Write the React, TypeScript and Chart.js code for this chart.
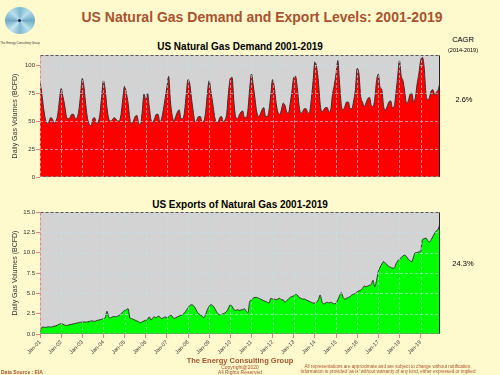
import React, { useEffect, useRef } from "react";
import { Chart, registerables } from "chart.js";
Chart.register(...registerables);

const yearLabels = [
  "Jan-01", "Jan-02", "Jan-03", "Jan-04", "Jan-05", "Jan-06", "Jan-07", "Jan-08", "Jan-09", "Jan-10",
  "Jan-11", "Jan-12", "Jan-13", "Jan-14", "Jan-15", "Jan-16", "Jan-17", "Jan-18", "Jan-19",
];

// Monthly US natural gas demand (BCFD), Jan-2001 .. Dec-2019
const demand = [
  85, 75, 62, 52, 48, 49, 53, 52, 48, 50, 55, 68,
  79, 72, 64, 54, 52, 53, 56, 56, 52, 53, 59, 73,
  88, 80, 64, 52, 47, 46, 52, 53, 48, 49, 56, 72,
  86, 78, 62, 52, 50, 51, 53, 52, 50, 50, 56, 70,
  81, 75, 66, 52, 48, 50, 54, 55, 48, 47, 58, 74,
  69, 75, 63, 51, 49, 52, 56, 56, 49, 52, 60, 70,
  80, 90, 68, 55, 50, 54, 58, 60, 52, 52, 58, 74,
  87, 83, 70, 58, 49, 51, 54, 54, 49, 50, 58, 75,
  86, 76, 66, 55, 49, 49, 53, 54, 49, 51, 57, 76,
  88, 89, 68, 54, 52, 55, 58, 59, 53, 53, 60, 79,
  92, 82, 70, 58, 54, 56, 60, 62, 54, 54, 60, 74,
  87, 80, 66, 58, 56, 60, 66, 64, 58, 57, 66, 77,
  89, 90, 80, 64, 57, 58, 61, 61, 57, 58, 70, 86,
  103, 98, 85, 65, 58, 60, 62, 62, 58, 60, 74, 82,
  92, 104, 84, 64, 60, 63, 67, 67, 61, 61, 68, 78,
  97, 92, 72, 67, 63, 66, 70, 71, 64, 63, 70, 86,
  92, 80, 78, 63, 60, 63, 67, 68, 62, 63, 75, 90,
  104, 90, 86, 76, 66, 68, 74, 75, 67, 71, 83, 92,
  104, 107, 98, 75, 69, 71, 77, 78, 73, 76, 78, 85,
];

// Monthly US natural gas exports (BCFD), Jan-2001 .. Dec-2019
const exportsData = [
  0.3, 0.8, 0.85, 0.8, 0.85, 0.9, 0.85, 0.9, 0.95, 1.0, 1.1, 1.2,
  1.3, 1.2, 1.1, 1.05, 1.1, 1.15, 1.2, 1.25, 1.3, 1.35, 1.4, 1.45,
  1.45, 1.5, 1.45, 1.5, 1.55, 1.6, 1.6, 1.55, 1.65, 1.7, 1.75, 1.8,
  1.9, 2.0, 2.8, 2.1, 2.0, 2.1, 2.15, 2.1, 2.2, 2.3, 2.5, 2.7,
  2.9, 3.0, 3.1, 2.0, 1.9, 1.8, 1.7, 1.6, 1.5, 1.4, 1.5, 1.6,
  1.7, 1.8, 2.1, 1.7, 2.0, 2.1, 2.0, 2.2, 2.1, 1.9, 2.0, 2.1,
  2.0, 2.1, 2.3, 2.2, 1.9, 2.0, 2.1, 2.2, 2.3, 2.4, 2.6, 2.9,
  3.2, 3.5, 3.6, 3.5, 3.2, 2.8, 2.5, 2.35, 2.2, 2.0, 2.4, 3.0,
  3.4, 3.6, 3.5, 3.2, 2.8, 2.5, 2.35, 2.4, 2.5, 2.6, 2.8, 3.2,
  3.6, 3.4, 3.0, 2.9, 3.0, 2.9, 2.95, 3.0, 3.1, 2.8, 2.6, 4.0,
  4.2, 4.4, 4.5, 4.5, 4.4, 4.3, 4.2, 4.1, 4.0, 3.9, 3.8, 4.4,
  4.3, 4.3, 4.2, 4.3, 4.4, 4.2, 4.2, 3.9, 4.1, 4.3, 4.5, 4.6,
  4.7, 4.9, 4.8, 4.5, 4.4, 4.3, 4.3, 4.2, 4.1, 4.0, 3.9, 3.8,
  3.8, 3.9, 4.2, 4.8, 4.0, 3.7, 3.8, 3.9, 3.8, 3.9, 3.8, 3.7,
  3.8, 4.2, 4.7, 5.1, 4.5, 4.3, 4.4, 4.5, 4.6, 4.8, 4.9, 5.0,
  5.2, 5.3, 5.4, 5.6, 5.9, 5.8, 5.9, 6.0, 6.1, 6.6, 5.8, 6.6,
  7.7, 8.2, 8.6, 8.9, 8.7, 8.5, 8.3, 8.2, 8.1, 8.1, 8.6, 9.0,
  9.2, 9.4, 9.6, 9.7, 9.5, 9.2, 9.0, 8.9, 9.5, 10.0, 10.0, 10.1,
  10.1, 11.6, 11.7, 11.8, 11.5, 11.3, 11.6, 12.0, 12.4, 12.7, 12.9, 13.6,
];

const demandTickStep = 25;
const demandMax = 109;
const exportTickStep = 2.5;
const exportMax = 15;
const cagrDemand = "2.6%";
const cagrExports = "24.3%";

const BG = "#FFFACD";
const BROWN = "#A9522F";
const FONT = "'Liberation Sans', Arial, Helvetica, sans-serif";

const framePlugin = {
  id: "frameGrid",
  beforeDraw(chart: any) {
    const { ctx, chartArea: a } = chart;
    ctx.save();
    ctx.fillStyle = "#D3D3D3";
    ctx.fillRect(a.left, a.top, a.right - a.left, a.bottom - a.top);
    ctx.restore();
  },
  afterDatasetsDraw(chart: any) {
    const { ctx, chartArea: a, scales } = chart;
    const xs = scales.x;
    const ys = scales.y;
    ctx.save();
    ctx.lineWidth = 1;
    ctx.setLineDash([3, 2]);
    ctx.strokeStyle = "rgba(190,225,240,0.6)";
    xs.ticks.forEach((t: any) => {
      const px = Math.round(xs.getPixelForValue(t.value)) + 0.5;
      if (px > a.left + 2 && px < a.right - 2) {
        ctx.beginPath();
        ctx.moveTo(px, a.top);
        ctx.lineTo(px, a.bottom);
        ctx.stroke();
      }
    });
    ys.ticks.forEach((t: any) => {
      const py = Math.round(ys.getPixelForValue(t.value)) + 0.5;
      if (py > a.top + 2 && py < a.bottom - 2) {
        ctx.beginPath();
        ctx.moveTo(a.left, py);
        ctx.lineTo(a.right, py);
        ctx.stroke();
      }
    });
    const L = Math.round(a.left) + 0.5;
    const R = Math.round(a.right) - 0.5;
    const T = Math.round(a.top) + 0.5;
    const B = Math.round(a.bottom) - 0.5;
    ctx.strokeStyle = "#555";
    ctx.beginPath(); ctx.moveTo(L, T); ctx.lineTo(R, T); ctx.stroke();
    ctx.strokeStyle = "#888";
    ctx.beginPath(); ctx.moveTo(L, B); ctx.lineTo(R, B); ctx.stroke();
    ctx.strokeStyle = "#F08080";
    ctx.beginPath(); ctx.moveTo(L, T); ctx.lineTo(L, B); ctx.stroke();
    ctx.setLineDash([]);
    ctx.strokeStyle = "#222";
    ctx.beginPath(); ctx.moveTo(R, T); ctx.lineTo(R, B); ctx.stroke();
    ctx.restore();
  },
};

function makeConfig(values: number[], fillColor: string, yMax: number, step: number, showX: boolean, xHeight: number, decimals: number) {
  const pts = values.map((v, i) => ({ x: i / 12, y: v }));
  return {
    type: "line",
    data: {
      datasets: [
        {
          data: pts,
          borderColor: "#333333",
          borderWidth: 1,
          backgroundColor: fillColor,
          fill: "origin",
          pointRadius: 0,
          cubicInterpolationMode: "monotone",
        },
      ],
    },
    options: {
      animation: false,
      responsive: false,
      maintainAspectRatio: false,
      events: [],
      layout: { padding: { top: 5, right: 60, left: 0, bottom: 0 } },
      plugins: { legend: { display: false }, tooltip: { enabled: false }, title: { display: false } },
      scales: {
        x: {
          type: "linear",
          min: 0,
          max: (values.length - 1) / 12,
          afterBuildTicks: (s: any) => {
            s.ticks = s.ticks.filter((t: any) => Number.isInteger(t.value));
          },
          afterFit: (s: any) => {
            s.height = xHeight;
          },
          ticks: {
            stepSize: 1,
            autoSkip: false,
            display: showX,
            minRotation: 45,
            maxRotation: 45,
            padding: 1,
            color: "#333",
            font: { size: 5.5, family: FONT },
            callback: (v: number) => yearLabels[v] ?? "",
          },
          grid: {
            display: showX,
            drawOnChartArea: false,
            drawTicks: true,
            tickLength: 4,
            tickColor: "#F08080",
          },
          border: { display: false },
        },
        y: {
          min: 0,
          max: yMax,
          afterBuildTicks: (s: any) => {
            s.ticks = s.ticks.filter((t: any) => Math.abs(t.value / step - Math.round(t.value / step)) < 1e-6);
          },
          afterFit: (s: any) => {
            s.width = 40;
          },
          ticks: {
            stepSize: step,
            padding: 1,
            color: "#333",
            font: { size: 6, family: FONT },
            callback: (v: number) => v.toFixed(decimals),
          },
          grid: {
            drawOnChartArea: false,
            drawTicks: true,
            tickLength: 4,
            tickColor: "#F08080",
          },
          border: { display: false },
          title: {
            display: true,
            text: "Daily Gas Volumes (BCFD)",
            color: "#333",
            font: { size: 7, family: FONT },
            padding: { top: 11, bottom: 0 },
          },
        },
      },
    },
    plugins: [framePlugin],
  } as any;
}

function ChartCanvas(props: { config: any; top: number; height: number }) {
  const ref = useRef<HTMLCanvasElement | null>(null);
  useEffect(() => {
    if (!ref.current) return;
    const c = new Chart(ref.current, props.config);
    return () => c.destroy();
  }, []);
  return (
    <canvas
      ref={ref}
      width={500}
      height={props.height}
      style={{ position: "absolute", left: 0, top: props.top, width: 500, height: props.height }}
    />
  );
}

function T(props: { x: number; y: number; size: number; bold?: boolean; color?: string; align?: "center" | "left" | "right"; children: any }) {
  const align = props.align || "center";
  const tx = align === "center" ? "-50%" : align === "right" ? "-100%" : "0";
  return (
    <div
      style={{
        position: "absolute",
        left: props.x,
        top: props.y,
        transform: `translate(${tx}, -50%)`,
        fontSize: props.size,
        lineHeight: 1,
        fontWeight: props.bold ? "bold" : "normal",
        color: props.color || "#000",
        fontFamily: FONT,
        whiteSpace: "nowrap",
      }}
    >
      {props.children}
    </div>
  );
}

export default function App() {
  const topCfg = makeConfig(demand, "#FF0000", demandMax, demandTickStep, false, 5, 0);
  const botCfg = makeConfig(exportsData, "#00FF00", exportMax, exportTickStep, true, 28, 1);
  return (
    <div style={{ position: "fixed", left: 0, top: 0, width: 500, height: 375, background: BG, overflow: "hidden" }}>
      <div
        style={{
          position: "absolute",
          left: 5,
          top: 7,
          width: 30,
          height: 27,
          borderRadius: "50%",
          background:
            "conic-gradient(from 0deg, #7fb8d0, #b9e0ee, #6fa9c4, #b9e0ee, #7fb8d0, #c4e6f2, #6fa9c4, #b9e0ee, #7fb8d0)",
        }}
      >
        <div style={{ position: "absolute", left: 13, top: 12, width: 3, height: 3, borderRadius: "50%", background: "#223" }} />
      </div>
      <T x={20} y={43} size={3} color="#333">The Energy Consulting Group</T>

      <T x={262} y={17} size={14} bold color={BROWN}>US Natural Gas Demand and Export Levels: 2001-2019</T>

      <T x={240} y={47} size={10} bold>US Natural Gas Demand 2001-2019</T>
      <T x={240} y={205} size={10} bold>US Exports of Natural Gas 2001-2019</T>

      <ChartCanvas config={topCfg} top={50} height={132} />
      <ChartCanvas config={botCfg} top={207} height={155} />

      <T x={463} y={40} size={7.5}>CAGR</T>
      <T x={463} y={51} size={5.5}>(2014-2019)</T>
      <T x={464} y={100} size={7.5}>{cagrDemand}</T>
      <T x={463} y={264} size={7.5}>{cagrExports}</T>

      <T x={240} y={361} size={7.5} bold color={BROWN}>The Energy Consulting Group</T>
      <T x={240} y={367} size={5} color={BROWN}>Copyright@2020</T>
      <T x={240} y={372} size={5} color={BROWN}>All Rights Reserved</T>
      <T x={1} y={372} size={5} bold color={BROWN} align="left">Data Source : EIA</T>
      <T x={388} y={366.5} size={4.6} color={BROWN}>All representations are approximate and are subject to change without notification.</T>
      <T x={388} y={371.5} size={4.6} color={BROWN}>Information is provided 'as is' without warranty of any kind, either expressed or implied</T>
    </div>
  );
}
